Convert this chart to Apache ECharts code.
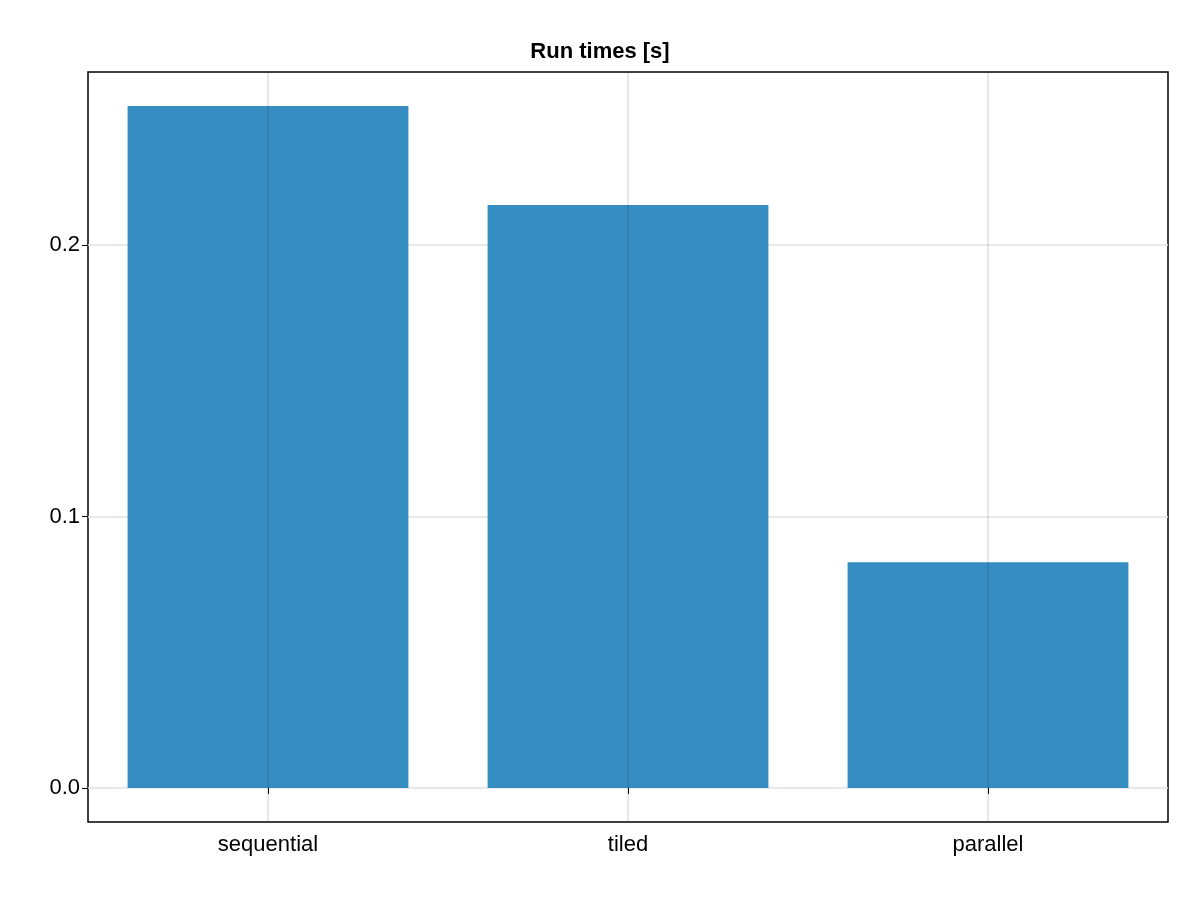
<!DOCTYPE html>
<html>
<head>
<meta charset="utf-8">
<script src="https://cdn.jsdelivr.net/npm/echarts@6/dist/echarts.min.js"></script>
<style>html,body{margin:0;padding:0;background:#fff}#main{width:1200px;height:900px}</style>
</head>
<body>
<div id="main"></div>
<script>
var categories = ['sequential', 'tiled', 'parallel'];
var runTimes = [0.2512, 0.2147, 0.0832];
var yTicks = [0, 0.1, 0.2];

var chart = echarts.init(document.getElementById('main'));
var font = 'Liberation Sans, Arial, sans-serif';
var option = {
    animation: false,
    title: {
        text: 'Run times [s]', left: 'center', top: 36,
        textStyle: {fontFamily: font, fontSize: 22, fontWeight: 'bold', color: '#000'}
    },
    grid: {left: 88, right: 32, top: 72, bottom: 78, show: true, borderColor: '#000', borderWidth: 1.5},
    xAxis: {
        type: 'category',
        data: categories,
        axisLine: {show: false},
        axisTick: {show: true, alignWithLabel: true, length: 6, lineStyle: {color: '#000'}},
        axisLabel: {fontFamily: font, fontSize: 22, color: '#000', margin: 12},
        splitLine: {show: false}
    },
    yAxis: {
        type: 'value',
        min: -0.0125, max: 0.2637,
        axisLine: {show: false},
        axisTick: {show: true, customValues: yTicks, length: 6, lineStyle: {color: '#000'}},
        axisLabel: {customValues: yTicks, fontFamily: font, fontSize: 22, color: '#000',
            formatter: function (v) { return v.toFixed(1); }},
        splitLine: {show: true, lineStyle: {color: '#e0e0e0', width: 1.5}}
    },
    series: [{
        type: 'bar',
        data: runTimes,
        barCategoryGap: '22%',
        itemStyle: {color: '#368dc2'},
        markLine: {
            silent: true, symbol: 'none', label: {show: false},
            lineStyle: {color: 'rgba(0,0,0,0.12)', type: 'solid', width: 1.5},
            data: categories.map(function (c) { return {xAxis: c}; })
        }
    }]
};
chart.setOption(option);
</script>
</body>
</html>
